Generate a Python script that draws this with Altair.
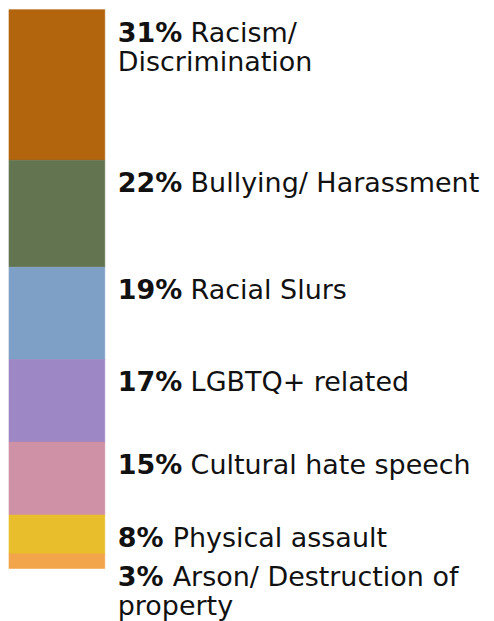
import altair as alt
import pandas as pd

pcts = [31, 22, 19, 17, 15, 8, 3]
line1 = ["Racism/", "Bullying/ Harassment", "Racial Slurs", "LGBTQ+ related",
         "Cultural hate speech", "Physical assault", "Arson/ Destruction of"]
line2 = ["Discrimination", "", "", "", "", "", "property"]
colors = ["#B2650D", "#637550", "#7FA0C6", "#9E87C5", "#CF91A5", "#E9BE2D", "#F3A54B"]

df = pd.DataFrame({"order": list(range(len(pcts))), "value": pcts,
                   "label": line1, "label2": line2, "color": colors})
df["pct"] = df["value"].astype(str) + "%"
df["digits"] = df["value"].astype(str).str.len()

FONT = "DejaVu Sans"
FS = 27
DY1 = 32
DY2 = 61

base = alt.Chart(df).transform_stack(
    stack="value", as_=["y0", "y1"], groupby=[],
    sort=[alt.SortField("order", order="ascending")]
)

def yenc():
    return alt.Y("y0:Q", axis=None,
                 scale=alt.Scale(nice=False, zero=True, reverse=True))

bar = base.mark_bar(strokeWidth=0.6).encode(
    x=alt.value(0), x2=alt.value(96),
    y=yenc(), y2="y1:Q",
    color=alt.Color("color:N", scale=None),
    stroke=alt.Stroke("color:N", scale=None),
)

pct_text = base.mark_text(
    align="left", baseline="alphabetic", dy=DY1, font=FONT, fontSize=FS,
    fontWeight="bold", color="#111"
).encode(x=alt.value(109), y=yenc(), text="pct:N")

lab_two = base.transform_filter("datum.digits == 2").mark_text(
    align="left", baseline="alphabetic", dy=DY1, dx=73, font=FONT, fontSize=FS,
    color="#111"
).encode(x=alt.value(109), y=yenc(), text="label:N")

lab_one = base.transform_filter("datum.digits == 1").mark_text(
    align="left", baseline="alphabetic", dy=DY1, dx=55, font=FONT, fontSize=FS,
    color="#111"
).encode(x=alt.value(109), y=yenc(), text="label:N")

lab_second = base.transform_filter("datum.label2 != ''").mark_text(
    align="left", baseline="alphabetic", dy=DY2, font=FONT, fontSize=FS,
    color="#111"
).encode(x=alt.value(109), y=yenc(), text="label2:N")

chart = alt.layer(bar, pct_text, lab_two, lab_one, lab_second).properties(
    width=478, height=560, padding=0
).configure_view(stroke=None)

chart.save("out.html", embed_options={"renderer": "svg", "actions": False})
